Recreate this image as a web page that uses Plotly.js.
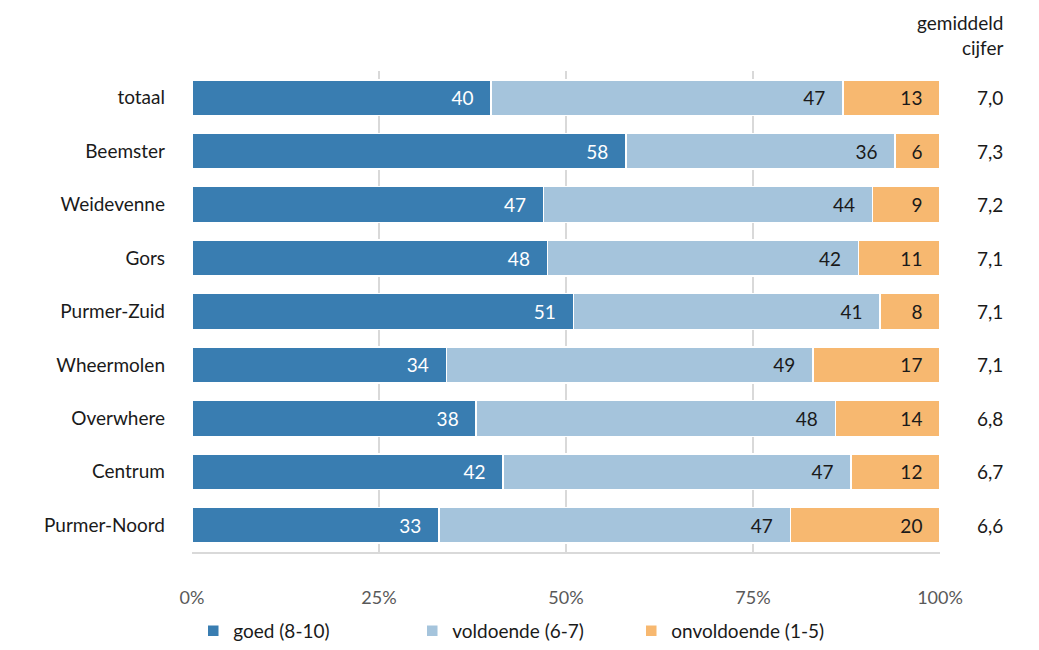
<!DOCTYPE html>
<html>
<head>
<meta charset="utf-8">
<script src="https://cdn.plot.ly/plotly-3.0.1.min.js"></script>
<style>html,body{margin:0;padding:0;background:#fff;}#chart{width:1039px;height:650px;}</style>
</head>
<body>
<div id="chart"></div>
<script>
const categories = ['totaal','Beemster','Weidevenne','Gors','Purmer-Zuid','Wheermolen','Overwhere','Centrum','Purmer-Noord'];
const goed = [40,58,47,48,51,34,38,42,33];
const voldoende = [47,36,44,42,41,49,48,47,47];
const onvoldoende = [13,6,9,11,8,17,14,12,20];
const gemiddeld = ['7,0','7,3','7,2','7,1','7,1','7,1','6,8','6,7','6,6'];
const seriesNames = ['goed (8-10)','voldoende (6-7)','onvoldoende (1-5)'];
const colors = ['#397db1','#a5c4dc','#f7b870'];
const textColors = ['#ffffff','#1a1a1a','#1a1a1a'];
const tickVals = [0,25,50,75,100];
const tickText = ['0%','25%','50%','75%','100%'];

const FONT = 'Lato, "Open Sans", sans-serif';
const PAD = '\u00a0\u00a0\u00a0';
const series = [goed, voldoende, onvoldoende];
const traces = series.map((vals, i) => ({
  type: 'bar',
  orientation: 'h',
  name: seriesNames[i],
  y: categories,
  x: vals,
  text: vals.map(v => String(v) + PAD),
  texttemplate: '%{text}',
  textposition: 'inside',
  insidetextanchor: 'end',
  textangle: 0,
  constraintext: 'none',
  insidetextfont: {family: FONT, size: 19, color: textColors[i]},
  marker: {color: colors[i], line: {color: '#ffffff', width: 1.5}},
  hoverinfo: 'skip'
}));

const annotations = categories.map((c, i) => ({
  xref: 'paper', yref: 'y', x: 1.067, y: c,
  text: gemiddeld[i], showarrow: false,
  xanchor: 'center', yanchor: 'middle',
  font: {family: FONT, size: 19, color: '#1a1a1a'}
}));
annotations.push({
  xref: 'paper', yref: 'paper', x: 1.087, y: 1.02,
  text: 'gemiddeld<br>cijfer', showarrow: false,
  xanchor: 'right', yanchor: 'bottom', align: 'right',
  font: {family: FONT, size: 19, color: '#1a1a1a'}
});

const layout = {
  width: 1039, height: 650,
  margin: {l: 192, r: 99, t: 71, b: 98},
  barmode: 'stack', barnorm: 'percent', bargap: 0.33,
  paper_bgcolor: '#fff', plot_bgcolor: '#fff',
  font: {family: FONT, size: 18, color: '#1a1a1a'},
  showlegend: true,
  legend: {
    orientation: 'h', xref: 'container', yref: 'container',
    x: 0.186, xanchor: 'left', y: -0.008, yanchor: 'bottom',
    font: {family: FONT, size: 19, color: '#1a1a1a'},
    entrywidth: 174, entrywidthmode: 'pixels', itemwidth: 30,
    traceorder: 'normal', itemclick: false
  },
  xaxis: {
    range: [0, 100], tickvals: tickVals, ticktext: tickText,
    showgrid: true, gridcolor: '#d9d9d9', gridwidth: 2,
    zeroline: false, showline: true, linecolor: '#d9d9d9', linewidth: 2,
    ticks: '', ticklabelstandoff: 28,
    tickfont: {family: FONT, size: 18, color: '#595959'},
    fixedrange: true, automargin: false
  },
  yaxis: {
    categoryorder: 'array', categoryarray: categories, autorange: 'reversed',
    showgrid: false, zeroline: false, showline: false, ticks: '',
    ticklabelstandoff: 26, automargin: false,
    tickfont: {family: FONT, size: 19, color: '#1a1a1a'},
    fixedrange: true
  },
  annotations: annotations
};

Plotly.newPlot('chart', traces, layout, {displayModeBar: false, staticPlot: true});
</script>
</body>
</html>
